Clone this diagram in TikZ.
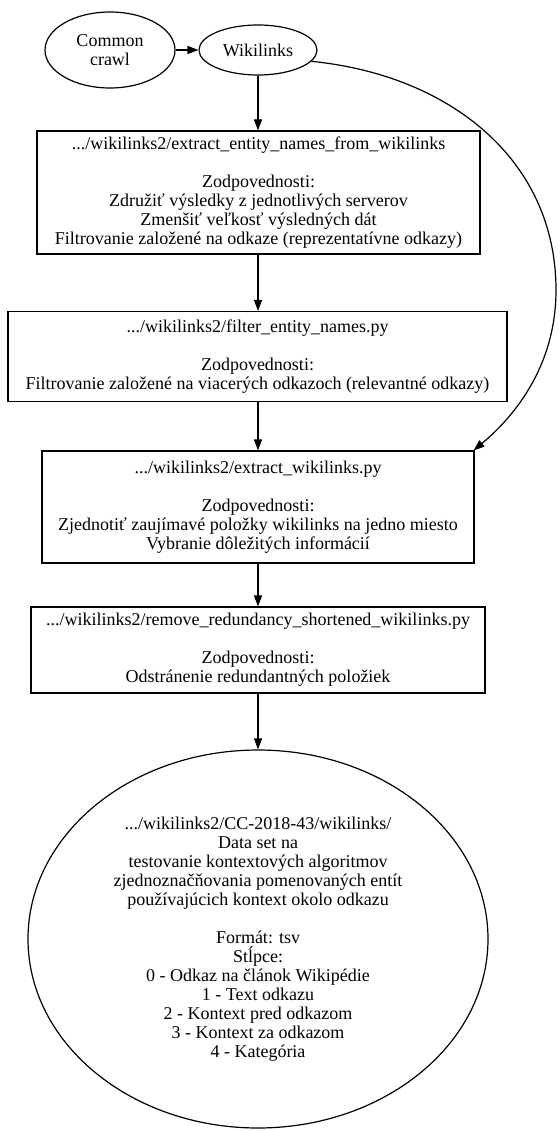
\documentclass[tikz,border=0pt]{standalone}
\usepackage{fontspec}
\setmainfont{Liberation Serif}
\usetikzlibrary{shapes.geometric,arrows.meta}
\begin{document}
\begin{tikzpicture}[x=1pt,y=-1pt,
  every node/.style={font=\rmfamily\fontsize{18}{19}\selectfont, align=center, inner sep=0pt},
  ell/.style={draw, ellipse, line width=1.2pt},
  boxnode/.style={draw, rectangle, line width=1.2pt},
  conn/.style={line width=1.2pt, -{Triangle[length=11pt,width=8pt]}}]
\useasboundingbox (0,0) rectangle (559,1131);
\node[ell, minimum width=130pt, minimum height=76pt] (cc) at (110,50) {Common\\crawl};
\node[ell, minimum width=118pt, minimum height=50pt] (wl) at (258,50) {Wikilinks};
\node[boxnode, minimum width=443pt, minimum height=123pt] (b1) at (258.5,192.5)
  {.../wikilinks2/extract\_entity\_names\_from\_wikilinks\\ \mbox{}\\ Zodpovednosti:\\ Združiť výsledky z jednotlivých serverov\\ Zmenšiť veľkosť výsledných dát\\ Filtrovanie založené na odkaze (reprezentatívne odkazy)};
\node[boxnode, minimum width=499pt, minimum height=90pt] (b2) at (257.5,356.5)
  {.../wikilinks2/filter\_entity\_names.py\\ \mbox{}\\ Zodpovednosti:\\ Filtrovanie založené na viacerých odkazoch (relevantné odkazy)};
\node[boxnode, minimum width=432pt, minimum height=112pt] (b3) at (258,507)
  {.../wikilinks2/extract\_wikilinks.py\\ \mbox{}\\ Zodpovednosti:\\ Zjednotiť zaujímavé položky wikilinks na jedno miesto\\ Vybranie dôležitých informácií};
\node[boxnode, minimum width=454pt, minimum height=86pt] (b4) at (258,650)
  {.../wikilinks2/remove\_redundancy\_shortened\_wikilinks.py\\ \mbox{}\\ Zodpovednosti:\\ Odstránenie redundantných položiek};
\node[ell, minimum width=460pt, minimum height=378pt] (ds) at (258,939)
  {.../wikilinks2/CC-2018-43/wikilinks/\\ Data set na\\ testovanie kontextových algoritmov\\ zjednoznačňovania pomenovaných entít\\ používajúcich kontext okolo odkazu\\ \mbox{}\\ Formát: tsv\\ Stĺpce:\\ 0 - Odkaz na článok Wikipédie\\ 1 - Text odkazu\\ 2 - Kontext pred odkazom\\ 3 - Kontext za odkazom\\ 4 - Kategória};
\coordinate (bend) at (556,290);
\draw[conn] (cc) -- (wl);
\draw[conn] (wl.south) -- (wl.south |- b1.north);
\draw[conn] (b1.south -| wl.south) -- (wl.south |- b2.north);
\draw[conn] (b2.south -| wl.south) -- (wl.south |- b3.north);
\draw[conn] (b3.south -| wl.south) -- (wl.south |- b4.north);
\draw[conn] (b4.south -| wl.south) -- (ds.north);
\draw[conn] (wl.-12) .. controls (450,75) and (556,160) .. (bend)
  .. controls (556,370) and (510,420) .. ([xshift=-1pt]b3.north east);
\end{tikzpicture}
\end{document}
